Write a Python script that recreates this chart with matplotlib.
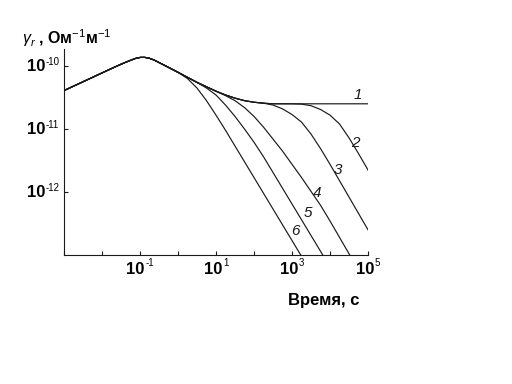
import matplotlib
matplotlib.use("Agg")
import matplotlib.pyplot as plt
import numpy as np
from matplotlib.ticker import NullLocator

plt.rcParams["font.family"] = ["Liberation Sans", "DejaVu Sans"]
plt.rcParams["mathtext.fontset"] = "custom"
plt.rcParams["mathtext.rm"] = "Liberation Sans"
plt.rcParams["mathtext.it"] = "Liberation Sans:italic"
plt.rcParams["mathtext.bf"] = "Liberation Sans:bold"

# log10(time, s) grid and log10(gamma) of the common envelope (curve 1)
env_logt = [-3.0, -2.75, -2.5, -2.25, -2.0, -1.75, -1.5, -1.375, -1.25, -1.125,
            -1.0, -0.875, -0.75, -0.625, -0.5, -0.375, -0.25, 0.0, 0.25, 0.5,
            0.75, 1.0, 1.25, 1.5, 1.75, 2.0, 2.25, 2.5, 2.75, 3.0, 3.25, 3.5,
            3.75, 4.0, 4.25, 4.5, 4.75, 5.0]
env_logg = [-10.39, -10.32, -10.25, -10.18, -10.11, -10.04, -9.972, -9.94, -9.91,
            -9.881, -9.864, -9.863, -9.878, -9.906, -9.945, -9.983, -10.022,
            -10.10, -10.18, -10.26, -10.33, -10.40, -10.46, -10.51, -10.55,
            -10.575, -10.59, -10.60, -10.60, -10.60, -10.60, -10.60, -10.60,
            -10.60, -10.60, -10.60, -10.60, -10.60]

# branches leaving the envelope (log10 t, log10 gamma)
c2_logt = [3.0, 3.25, 3.5, 3.75, 4.0, 4.25, 4.5, 4.75, 5.0]
c2_logg = [-10.60, -10.605, -10.63, -10.69, -10.78, -10.92, -11.14, -11.39, -11.65]
c3_logt = [2.25, 2.5, 2.75, 3.0, 3.25, 3.5, 3.75, 4.0, 4.25, 4.5, 4.75, 5.0]
c3_logg = [-10.59, -10.62, -10.68, -10.77, -10.89, -11.08, -11.31, -11.56, -11.82,
           -12.08, -12.34, -12.60]
c4_logt = [1.0, 1.25, 1.5, 1.75, 2.0, 2.25, 2.5, 2.75, 3.0, 3.25, 3.5, 3.75, 4.0,
           4.25, 4.5, 4.75]
c4_logg = [-10.40, -10.47, -10.55, -10.66, -10.80, -10.97, -11.16, -11.35, -11.56,
           -11.77, -11.99, -12.21, -12.46, -12.72, -12.98, -13.24]
c5_logt = [0.5, 0.75, 1.0, 1.25, 1.5, 1.75, 2.0, 2.25, 2.5, 2.75, 3.0, 3.25, 3.5,
           3.75, 4.0]
c5_logg = [-10.26, -10.35, -10.46, -10.62, -10.80, -11.00, -11.21, -11.44, -11.69,
           -11.94, -12.19, -12.44, -12.69, -12.94, -13.19]
c6_logt = [0.0, 0.25, 0.5, 0.75, 1.0, 1.25, 1.5, 1.75, 2.0, 2.25, 2.5, 2.75, 3.0,
           3.25, 3.5]
c6_logg = [-10.10, -10.20, -10.35, -10.55, -10.78, -11.02, -11.27, -11.52, -11.77,
           -12.02, -12.27, -12.52, -12.77, -13.02, -13.27]

branches = [(c2_logt, c2_logg), (c3_logt, c3_logg), (c4_logt, c4_logg),
            (c5_logt, c5_logg), (c6_logt, c6_logg)]

curve_names = ["1", "2", "3", "4", "5", "6"]
# label anchors (log10 t, log10 gamma)
name_logt = [4.74, 4.68, 4.21, 3.66, 3.42, 3.08]
name_logg = [-10.46, -11.22, -11.65, -12.02, -12.33, -12.62]

xtick_vals = [1e-1, 1e1, 1e3, 1e5]
xtick_exp = ["-1", "1", "3", "5"]
ytick_vals = [1e-10, 1e-11, 1e-12]
ytick_exp = ["-10", "-11", "-12"]

LINE = "#1a1a1a"


def text_w(s, size):
    """Rough Arial advance width in points."""
    return size * sum(0.333 if c == "-" else 0.556 for c in s)


fig = plt.figure(figsize=(5.12, 3.84), dpi=100)
ax = fig.add_axes([64 / 512, 1 - 255 / 384, 304 / 512, 206 / 384])
ax.set_xscale("log")
ax.set_yscale("log")

# curve 1 is the envelope itself
ax.plot(10 ** np.array(env_logt), 10 ** np.array(env_logg), color=LINE, lw=0.85)
for bt, bg in branches:
    n = env_logt.index(bt[0])
    lt = np.array(env_logt[:n] + bt)
    lg = np.array(env_logg[:n] + bg)
    ax.plot(10 ** lt, 10 ** lg, color=LINE, lw=0.85)

for name, lt, lg in zip(curve_names, name_logt, name_logg):
    ax.text(10 ** lt, 10 ** lg, name, fontsize=11, style="italic",
            ha="center", va="center", color=LINE)

ax.set_xlim(1e-3, 1e5)
ax.set_ylim(1e-13, 10 ** -9.73)
ax.set_xticks([10.0 ** k for k in range(-3, 6)])
ax.set_yticks(ytick_vals)
ax.xaxis.set_minor_locator(NullLocator())
ax.yaxis.set_minor_locator(NullLocator())
ax.set_xticklabels([])
ax.set_yticklabels([])
ax.tick_params(direction="in", length=2.9, width=0.8, color=LINE)
for side in ["top", "right"]:
    ax.spines[side].set_visible(False)
for side in ["left", "bottom"]:
    ax.spines[side].set_color(LINE)
    ax.spines[side].set_linewidth(0.8)

# power-of-ten tick labels: bold "10" plus a small exponent
w10 = text_w("10", 12)
for v, e in zip(xtick_vals, xtick_exp):
    total = w10 + 0.6 + text_w(e, 7)
    ax.annotate("10", xy=(v, 0), xycoords=ax.get_xaxis_transform(),
                xytext=(-total / 2, -5), textcoords="offset points",
                ha="left", va="top", fontsize=12, fontweight="bold")
    ax.annotate(e, xy=(v, 0), xycoords=ax.get_xaxis_transform(),
                xytext=(-total / 2 + w10 + 0.6, -2.2), textcoords="offset points",
                ha="left", va="top", fontsize=7)
for v, e in zip(ytick_vals, ytick_exp):
    ax.annotate("10", xy=(0, v), xycoords=ax.get_yaxis_transform(),
                xytext=(-13.7, -0.7), textcoords="offset points",
                ha="right", va="center", fontsize=12, fontweight="bold")
    ax.annotate(e, xy=(0, v), xycoords=ax.get_yaxis_transform(),
                xytext=(-13.0, 6.2), textcoords="offset points",
                ha="left", va="top", fontsize=7)

ax.set_xlabel("Время, с", loc="right", fontsize=12, fontweight="bold")
ax.xaxis.set_label_coords((360 - 64) / 304, (255 - 293) / 206)
ax.set_ylabel(r"$\gamma_r$ , Ом$^{-1}$м$^{-1}$", rotation=0, ha="left",
              va="baseline", fontsize=11.5, fontweight="bold")
ax.yaxis.set_label_coords((22 - 64) / 304, (255 - 44) / 206)

fig.savefig("out.png", dpi=100)
